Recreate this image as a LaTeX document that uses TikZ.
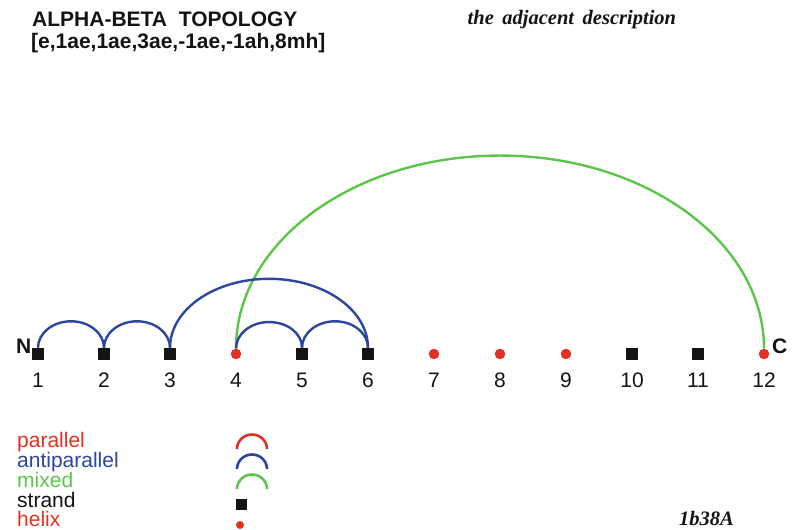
\documentclass[tikz,border=0pt]{standalone}
\usepackage{fontspec}
\setmainfont{Liberation Sans}
\newfontfamily\serifbi{Liberation Serif}
\usetikzlibrary{calc}
\definecolor{tred}{RGB}{224,50,36}
\definecolor{tblue}{RGB}{44,70,160}
\definecolor{tgreen}{RGB}{92,198,74}
\definecolor{tblack}{RGB}{20,20,20}
\newcommand\linkarc[4]{% style, from, to, height
  \draw[#1] let \p1=(#2.north), \p2=(#3.north), \n1={(\x2-\x1)/2} in
    (#2.north) .. controls +(0,{0.5523*#4}) and +({-0.5523*\n1},0) .. ({\x1+\n1},{\y1+#4})
    .. controls +({0.5523*\n1},0) and +(0,{0.5523*#4}) .. (#3.north);}
\tikzset{
  strandbox/.style={fill=tblack,draw=none,minimum size=12pt,inner sep=0pt},
  helixdot/.style={circle,fill=tred,draw=none,minimum size=10.5pt,inner sep=0pt},
  numlab/.style={anchor=base,inner sep=0pt,font=\fontsize{21}{21}\selectfont,text=tblack},
  leglab/.style={anchor=base west,inner sep=0pt,font=\fontsize{21}{21}\selectfont},
  anti/.style={tblue,line width=2.4pt},
  mixarc/.style={tgreen,line width=2.4pt},
  legarc/.style={line width=2.6pt},
}
\begin{document}
\begin{tikzpicture}[x=1pt,y=1pt]
\useasboundingbox (0,0) rectangle (795,530);
% titles
\node[anchor=base west,inner sep=0pt,font=\bfseries\fontsize{21}{21}\selectfont,text=tblack] (t1) at (32,503.5) {ALPHA-BETA\ \ TOPOLOGY};
\node[anchor=base west,inner sep=0pt,font=\bfseries\fontsize{21}{21}\selectfont,text=tblack] (t2) at (31,481.5) {[e,1ae,1ae,3ae,-1ae,-1ah,8mh]};
\node[anchor=base west,inner sep=0pt,font=\serifbi\bfseries\itshape\fontsize{20.5}{20.5}\selectfont,text=tblack] (t3) at (467.5,505) {the\ \,adjacent\ \,description};
\node[anchor=base west,inner sep=0pt,font=\serifbi\bfseries\itshape\fontsize{20.5}{20.5}\selectfont,text=tblack] (t4) at (679,5) {1b38A};
% elements
\foreach \i/\t in {1/strandbox,2/strandbox,3/strandbox,4/helixdot,5/strandbox,6/strandbox,7/helixdot,8/helixdot,9/helixdot,10/strandbox,11/strandbox,12/helixdot}{
  \node[\t] (n\i) at ({38+66*(\i-1)},176) {};
  \node[numlab] (l\i) at ({38+66*(\i-1)},142) {\i};
}
\node[anchor=base east,inner sep=0pt,font=\bfseries\fontsize{21}{21}\selectfont,text=tblack] (nN) at (31.5,176) {N};
\node[anchor=base west,inner sep=0pt,font=\bfseries\fontsize{21}{21}\selectfont,text=tblack] (nC) at (772,176) {C};
% arcs
\linkarc{mixarc}{n4}{n12}{193}
\linkarc{anti}{n3}{n6}{69}
\linkarc{anti}{n1}{n2}{26.5}
\linkarc{anti}{n2}{n3}{26.5}
\linkarc{anti}{n4}{n5}{26.5}
\linkarc{anti}{n5}{n6}{26.5}
% legend
\node[leglab,text=tred] (g1) at (17,82) {parallel};
\node[leglab,text=tblue] (g2) at (17,62) {antiparallel};
\node[leglab,text=tgreen] (g3) at (17,42) {mixed};
\node[leglab,text=tblack] (g4) at (17,22) {strand};
\node[leglab,text=tred] (g5) at (17,3.5) {helix};
\draw[legarc,tred] (237,81) arc[start angle=180,end angle=0,x radius=15,y radius=14.5];
\draw[legarc,tblue] (237,61) arc[start angle=180,end angle=0,x radius=15,y radius=14.5];
\draw[legarc,tgreen] (237,41) arc[start angle=180,end angle=0,x radius=15,y radius=14.5];
\node[strandbox,minimum size=11pt] (s1) at (241,25) {};
\node[helixdot,minimum size=8pt] (s2) at (240,5) {};
\end{tikzpicture}
\end{document}
